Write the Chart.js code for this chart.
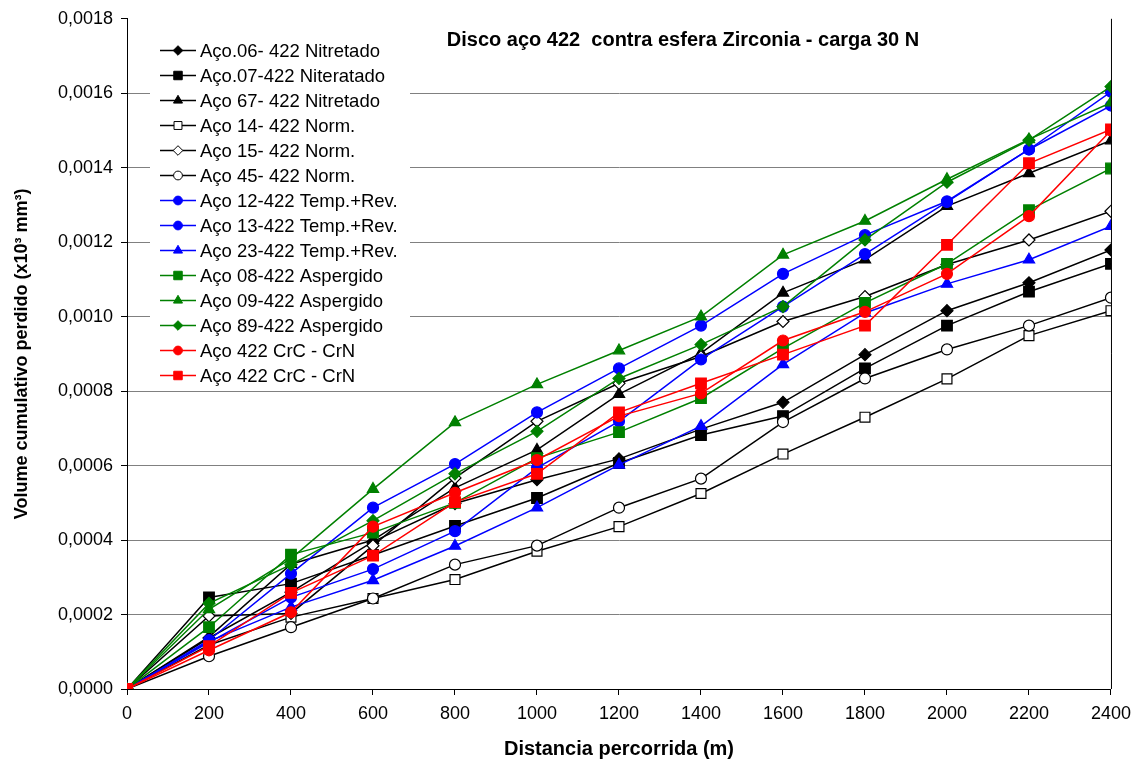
<!DOCTYPE html>
<html>
<head>
<meta charset="utf-8">
<script src="https://cdn.jsdelivr.net/npm/chart.js@4.4.1/dist/chart.umd.min.js"></script>
<style>
  html, body { margin: 0; padding: 0; background: #fff; }
</style>
</head>
<body>
<canvas id="wearChart" width="1139" height="765"></canvas>
<script>
// distance travelled (m)
const distances = [0, 200, 400, 600, 800, 1000, 1200, 1400, 1600, 1800, 2000, 2200, 2400];
const yTicks = [0, 0.0002, 0.0004, 0.0006, 0.0008, 0.0010, 0.0012, 0.0014, 0.0016, 0.0018];

const seriesLabels = [
  'Aço.06- 422 Nitretado',
  'Aço.07-422 Niteratado',
  'Aço 67- 422 Nitretado',
  'Aço 14- 422 Norm.',
  'Aço 15- 422 Norm.',
  'Aço 45- 422 Norm.',
  'Aço 12-422 Temp.+Rev.',
  'Aço 13-422 Temp.+Rev.',
  'Aço 23-422 Temp.+Rev.',
  'Aço 08-422 Aspergido',
  'Aço 09-422 Aspergido',
  'Aço 89-422 Aspergido',
  'Aço 422 CrC - CrN',
  'Aço 422 CrC - CrN'
];

// cumulative volume lost (x10^3 mm^3)
const aco06 = [0, 0.000137, 0.00026, 0.000396, 0.000498, 0.000562, 0.000618, 0.000698, 0.00077, 0.000898, 0.001016, 0.001091, 0.001179];
const aco07 = [0, 0.000246, 0.000283, 0.00036, 0.000438, 0.000513, 0.000607, 0.000682, 0.000733, 0.000861, 0.000976, 0.001067, 0.001142];
const aco67 = [0, 0.00014, 0.000335, 0.0004, 0.00054, 0.000642, 0.000792, 0.000902, 0.001064, 0.001153, 0.001297, 0.001385, 0.001473];
const aco14 = [0, 0.000118, 0.000193, 0.000243, 0.000294, 0.00037, 0.000436, 0.000525, 0.000631, 0.00073, 0.000833, 0.000949, 0.001016];
const aco15 = [0, 0.000196, 0.000203, 0.000385, 0.000567, 0.000719, 0.000821, 0.000893, 0.000987, 0.001054, 0.00114, 0.001206, 0.001283];
const aco45 = [0, 0.000088, 0.000166, 0.000243, 0.000334, 0.000385, 0.000487, 0.000565, 0.000717, 0.000834, 0.000912, 0.000976, 0.001051];
const aco12 = [0, 0.000131, 0.00031, 0.000487, 0.000604, 0.000743, 0.000861, 0.000976, 0.001115, 0.001219, 0.00131, 0.001449, 0.001604];
const aco13 = [0, 0.000125, 0.000246, 0.000322, 0.000424, 0.000594, 0.000719, 0.000885, 0.001027, 0.001168, 0.001308, 0.001449, 0.001567];
const aco23 = [0, 0.000128, 0.00022, 0.000292, 0.000384, 0.000487, 0.000602, 0.000706, 0.000872, 0.00101, 0.001088, 0.001153, 0.001243];
const aco08 = [0, 0.000166, 0.000361, 0.00042, 0.0005, 0.00062, 0.00069, 0.000781, 0.000915, 0.001037, 0.001142, 0.001286, 0.001398];
const aco09 = [0, 0.000214, 0.00035, 0.000537, 0.000716, 0.000818, 0.000909, 0.001, 0.001166, 0.001257, 0.001369, 0.001476, 0.001575];
const aco89 = [0, 0.00023, 0.000334, 0.000452, 0.000578, 0.000692, 0.000834, 0.000925, 0.001027, 0.001206, 0.001361, 0.001474, 0.001618];
const crcCrnA = [0, 0.000104, 0.000206, 0.000436, 0.000527, 0.000615, 0.000733, 0.000794, 0.000936, 0.001013, 0.001115, 0.00127, 0.0015];
const crcCrnB = [0, 0.000115, 0.000258, 0.000358, 0.000502, 0.000578, 0.000743, 0.000821, 0.000898, 0.000976, 0.001193, 0.001412, 0.001503];

const seriesValues = [aco06, aco07, aco67, aco14, aco15, aco45, aco12, aco13, aco23, aco08, aco09, aco89, crcCrnA, crcCrnB];

const FONT = '"Liberation Sans", Arial, sans-serif';
const BLACK = '#000000', BLUE = '#0000FF', GREEN = '#008000', RED = '#FF0000';

// [line colour, point style, filled?, radius]
const looks = [
  [BLACK, 'rectRot', true, 6],
  [BLACK, 'rect', true, 7.5],
  [BLACK, 'triangle', true, 6.5],
  [BLACK, 'rect', false, 7],
  [BLACK, 'rectRot', false, 6],
  [BLACK, 'circle', false, 5.5],
  [BLUE, 'circle', true, 5.5],
  [BLUE, 'circle', true, 5.5],
  [BLUE, 'triangle', true, 6.5],
  [GREEN, 'rect', true, 7.5],
  [GREEN, 'triangle', true, 6.5],
  [GREEN, 'rectRot', true, 6],
  [RED, 'circle', true, 5.5],
  [RED, 'rect', true, 7.5]
];

const datasets = seriesLabels.map((label, i) => {
  const [color, style, filled, radius] = looks[i];
  return {
    label,
    data: distances.map((d, j) => ({ x: d, y: seriesValues[i][j] })),
    borderColor: color,
    backgroundColor: filled ? color : '#FFFFFF',
    borderWidth: 1.5,
    pointStyle: style,
    pointRadius: radius,
    pointBackgroundColor: filled ? color : '#FFFFFF',
    pointBorderColor: color,
    pointBorderWidth: 1.2,
    tension: 0,
    order: seriesLabels.length - i
  };
});

const fmt = (v) => v.toFixed(4).replace('.', ',');

// chart title sits inside the plot area
const innerTitle = {
  id: 'innerTitle',
  afterDraw(chart) {
    const ctx = chart.ctx;
    ctx.save();
    ctx.fillStyle = '#000';
    ctx.font = 'bold 20px ' + FONT;
    ctx.textAlign = 'center';
    ctx.textBaseline = 'middle';
    ctx.fillText('Disco aço 422  contra esfera Zirconia - carga 30 N', 683, 40);
    ctx.restore();
  }
};

// legend box inside the plot area, top-left
const innerLegend = {
  id: 'innerLegend',
  afterDraw(chart) {
    const ctx = chart.ctx;
    ctx.save();
    ctx.fillStyle = '#FFFFFF';
    ctx.fillRect(150, 30, 260, 356);
    ctx.font = '18.5px ' + FONT;
    ctx.textBaseline = 'middle';
    chart.data.datasets.forEach((ds, i) => {
      const y = 50.5 + i * 25;
      ctx.strokeStyle = ds.borderColor;
      ctx.lineWidth = 1.5;
      ctx.beginPath();
      ctx.moveTo(160, y);
      ctx.lineTo(196, y);
      ctx.stroke();
      ctx.fillStyle = ds.pointBackgroundColor;
      ctx.strokeStyle = ds.pointBorderColor;
      ctx.lineWidth = 1;
      Chart.helpers.drawPoint(ctx, { pointStyle: ds.pointStyle, radius: ds.pointRadius * 0.8, rotation: 0, borderWidth: 1 }, 178, y);
      ctx.fillStyle = '#000';
      ctx.fillText(ds.label, 200, y + 1);
    });
    // right border of the plot area
    const a = chart.chartArea;
    ctx.strokeStyle = '#000';
    ctx.lineWidth = 1;
    ctx.beginPath();
    ctx.moveTo(a.right + 0.5, a.top);
    ctx.lineTo(a.right + 0.5, a.bottom);
    ctx.stroke();
    ctx.restore();
  }
};

new Chart(document.getElementById('wearChart'), {
  type: 'line',
  data: { datasets },
  options: {
    responsive: false,
    animation: false,
    devicePixelRatio: 1,
    layout: { padding: { top: 16, right: 26, bottom: 0, left: 0 } },
    plugins: {
      legend: { display: false },
      tooltip: { enabled: false }
    },
    scales: {
      x: {
        type: 'linear',
        min: 0,
        max: 2400,
        afterBuildTicks: (axis) => { axis.ticks = distances.map((v) => ({ value: v })); },
        afterFit: (axis) => { axis.height = 76; },
        border: { color: '#000', width: 1 },
        grid: { drawOnChartArea: false, drawTicks: true, tickLength: 6, tickColor: '#000' },
        ticks: { color: '#000', font: { family: FONT, size: 18 }, padding: 8, maxRotation: 0, callback: (v) => String(v) },
        title: {
          display: true,
          text: 'Distancia percorrida (m)',
          color: '#000',
          font: { family: FONT, size: 20, weight: 'bold' },
          padding: { top: 0, bottom: 4 }
        }
      },
      y: {
        type: 'linear',
        min: 0,
        max: 0.0018,
        afterBuildTicks: (axis) => { axis.ticks = yTicks.map((v) => ({ value: v })); },
        afterFit: (axis) => { axis.width = 127; },
        border: { color: '#000', width: 1 },
        grid: {
          color: (c) => (c.tick && c.tick.value >= 0.0018 ? 'rgba(0,0,0,0)' : '#808080'),
          lineWidth: 1,
          tickLength: 6,
          tickColor: '#000'
        },
        ticks: { color: '#000', font: { family: FONT, size: 18 }, padding: 8, callback: (v) => fmt(v) },
        title: {
          display: true,
          text: 'Volume cumulativo perdido (x10³ mm³)',
          color: '#000',
          font: { family: FONT, size: 18, weight: 'bold' },
          padding: { top: 11, bottom: 0 }
        }
      }
    }
  },
  plugins: [innerTitle, innerLegend]
});
</script>
</body>
</html>
